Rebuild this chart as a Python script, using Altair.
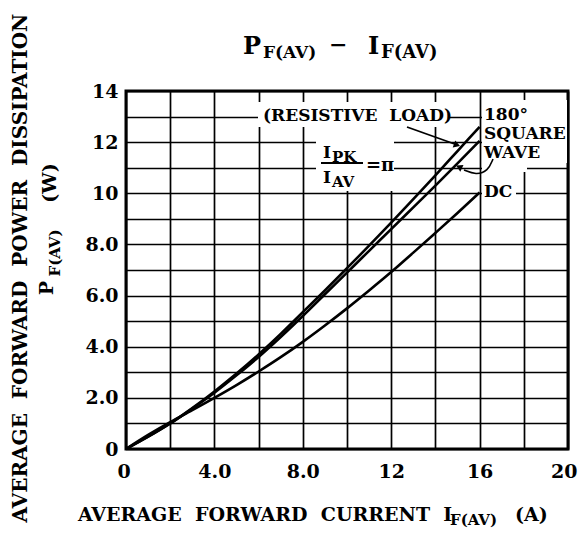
import altair as alt
import pandas as pd

# ---------------- data ----------------
current = [0, 1, 2, 3, 4, 5, 6, 7, 8, 9, 10, 11, 12, 13, 14, 15, 16]
p_resistive = [0, 0.48, 1.0, 1.6, 2.25, 2.95, 3.7, 4.5, 5.35, 6.2, 7.07, 7.95, 8.85, 9.77, 10.7, 11.65, 12.6]
p_square = [0, 0.48, 1.0, 1.58, 2.2, 2.88, 3.6, 4.38, 5.2, 6.05, 6.9, 7.75, 8.6, 9.45, 10.3, 11.17, 12.05]
p_dc = [0, 0.55, 1.05, 1.52, 2.0, 2.5, 3.03, 3.59, 4.19, 4.83, 5.5, 6.2, 6.92, 7.68, 8.45, 9.23, 10.03]
series_names = ["RESISTIVE", "SQUARE", "DC"]

x_grid = list(range(0, 21, 2))
y_grid = list(range(0, 15))
x_tick_labels = {0: "0", 4: "4.0", 8: "8.0", 12: "12", 16: "16", 20: "20"}
y_tick_labels = {0: "0", 2: "2.0", 4: "4.0", 6: "6.0", 8: "8.0", 10: "10", 12: "12", 14: "14"}

FONT = "DejaVu Serif"
NB = "\u00a0"
W, H = 442, 358

df = pd.DataFrame({
    "I": current * 3,
    "P": p_resistive + p_square + p_dc,
    "series": [series_names[0]] * len(current) + [series_names[1]] * len(current) + [series_names[2]] * len(current),
})


def label_expr(mapping):
    expr = "''"
    for k, v in mapping.items():
        expr = f"datum.value == {k} ? '{v}' : ({expr})"
    return expr


one = pd.DataFrame({"a": [0]})

curves = alt.Chart(df).mark_line(color="black", strokeWidth=2.6, interpolate="monotone").encode(
    x=alt.X("I:Q", scale=alt.Scale(domain=[0, 20], nice=False),
            axis=alt.Axis(values=x_grid, labelExpr=label_expr(x_tick_labels), title=None,
                          labelPadding=13, labelFlush=True, labelFlushOffset=9)),
    y=alt.Y("P:Q", scale=alt.Scale(domain=[0, 14], nice=False),
            axis=alt.Axis(values=y_grid, labelExpr=label_expr(y_tick_labels), title=None,
                          labelPadding=8)),
    detail="series:N",
)


def txt(s, x, y, size, align="left", baseline="alphabetic", angle=0):
    return alt.Chart(one).mark_text(
        text=s, font=FONT, fontWeight="bold", fontSize=size, align=align,
        baseline=baseline, angle=angle, color="black"
    ).encode(x=alt.value(x), y=alt.value(y))


def box(x1, x2, y1, y2):
    return alt.Chart(one).mark_rect(color="white").encode(
        x=alt.value(x1), x2=alt.value(x2), y=alt.value(y1), y2=alt.value(y2))


def seg(x1, y1, x2, y2, w=1.8):
    return alt.Chart(one).mark_rule(color="black", strokeWidth=w).encode(
        x=alt.value(x1), x2=alt.value(x2), y=alt.value(y1), y2=alt.value(y2))


def head(x, y, angle):
    return alt.Chart(one).mark_point(shape="triangle-right", filled=True, color="black",
                                     size=55, angle=angle, opacity=1).encode(
        x=alt.value(x), y=alt.value(y))


# curved leader from "WAVE" (pixel positions inside the plot)
wave_px = [367, 362, 350, 338]
wave_py = [68, 80, 84, 79]
wave_arrow = alt.Chart(pd.DataFrame({"px": wave_px, "py": wave_py, "o": [0, 1, 2, 3]})).mark_line(
    color="black", strokeWidth=1.6, interpolate="basis").encode(
    x=alt.X("px:Q", scale=None), y=alt.Y("py:Q", scale=None), order="o:Q")

layers = [
    box(132, 323, 11, 36),      # (RESISTIVE LOAD)
    box(190, 268, 36, 100),     # Ipk/Iav = pi
    box(356, 441, 9, 72),       # 180 SQUARE WAVE
    box(356, 401, 53, 81),
    box(356, 390, 90, 110),     # DC
    curves,
    # in-plot annotations
    txt(f"(RESISTIVE{NB}{NB}LOAD)", 137, 30, 17),
    seg(281, 36, 330, 53.5),
    head(331, 54, 20),
    txt("I", 197, 67, 17),
    txt("PK", 206, 71, 15),
    seg(195, 72, 237, 72, 2),
    txt("I", 197, 92, 17),
    txt("AV", 206, 96, 15),
    txt("=π", 240, 80, 18),
    txt("180°", 358, 29, 17),
    txt("SQUARE", 358, 48, 17),
    txt("WAVE", 358, 67, 17),
    txt("DC", 358, 106, 17),
    wave_arrow,
    head(333, 76, 206),
    # title
    txt("P", 117, -37, 24),
    txt("F(AV)", 137, -33, 17),
    txt("−", 203, -39, 22),
    txt("I", 242, -37, 24),
    txt("F(AV)", 255, -33, 18),
    # x title
    txt(f"AVERAGE{NB}{NB}FORWARD{NB}{NB}CURRENT{NB}{NB}I", -48, 430, 19),
    txt("F(AV)", 324, 434, 15),
    txt("(A)", 389, 430, 19),
    # y title
    txt(f"AVERAGE{NB}{NB}FORWARD{NB}{NB}POWER{NB}{NB}DISSIPATION", -105, 177, 20,
        align="center", baseline="middle", angle=270),
    txt("(W)", -76, 92, 19, align="center", baseline="middle", angle=270),
    txt("P", -79, 197, 19, align="center", baseline="middle", angle=270),
    txt("F(AV)", -71, 162, 15, align="center", baseline="middle", angle=270),
]

chart = alt.layer(*layers).properties(
    width=W, height=H,
    autosize=alt.AutoSizeParams(type="none"),
    padding={"left": 118, "top": 83, "right": 10, "bottom": 81},
).configure_view(
    stroke="black", strokeWidth=3
).configure_axis(
    grid=True, gridColor="black", gridWidth=1.7, gridOpacity=1,
    domain=False, ticks=False,
    labelFont=FONT, labelFontWeight="bold", labelFontSize=19, labelColor="black",
)

chart.save("out.html", embed_options={"renderer": "svg", "actions": False})
